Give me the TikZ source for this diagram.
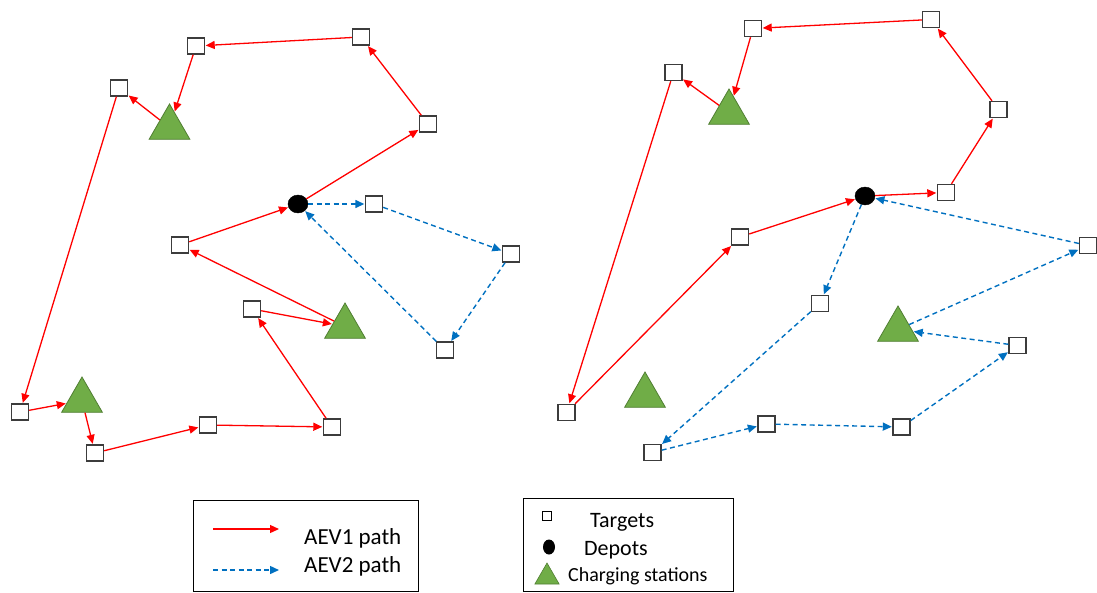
\documentclass[tikz,border=0pt]{standalone}
\usepackage{fontspec}
\setmainfont{Carlito}
\usetikzlibrary{arrows.meta,shapes.geometric}
\definecolor{pathred}{RGB}{255,0,0}
\definecolor{pathblue}{RGB}{0,112,192}
\definecolor{trifill}{RGB}{112,173,71}
\definecolor{tridraw}{RGB}{80,126,50}
\definecolor{sqdraw}{RGB}{60,60,60}
\tikzset{
  target/.style={draw=sqdraw, fill=white, line width=1.4pt, minimum width=17pt, minimum height=16pt, inner sep=0pt},
  depot/.style={ellipse, fill=black, draw=black, minimum width=20pt, minimum height=18pt, inner sep=0pt},
  station/.style={regular polygon, regular polygon sides=3, fill=trifill, draw=tridraw, line width=0.8pt, minimum size=47pt, inner sep=0pt},
  aevone/.style={draw=pathred, line width=1.3pt, -{Triangle[length=9pt,width=8pt]}, shorten >=0.5pt},
  aevtwo/.style={draw=pathblue, line width=1.4pt, dash pattern=on 5pt off 3.5pt, -{Triangle[length=9pt,width=8pt]}, shorten >=0.5pt},
  legbox/.style={draw=black, line width=1pt},
  legtext/.style={anchor=base west, inner sep=0pt, font=\fontsize{23}{26}\selectfont},
}
\begin{document}
\begin{tikzpicture}[x=1pt, y=-1pt]
\useasboundingbox (0,0) rectangle (1097,592);
% ---------- left diagram ----------
\node[target] (S1) at (196,46) {};
\node[target] (S2) at (361,37) {};
\node[target] (S3) at (119,88) {};
\node[target] (S4) at (428,124) {};
\node[target] (S5) at (374,204) {};
\node[target] (S6) at (180,245) {};
\node[target] (S7) at (511,254) {};
\node[target] (S8) at (252,309) {};
\node[target] (S9) at (445,350) {};
\node[target] (S10) at (20,412) {};
\node[target] (S11) at (208,425) {};
\node[target] (S12) at (332,427) {};
\node[target] (S13) at (95,453) {};
\node[depot] (D1) at (298,204) {};
\node[station] (T1) at (169.5,127.5) {};
\node[station] (T2) at (345,326.5) {};
\node[station] (T3) at (82,400.5) {};
\draw[aevone] (D1) -- (S4);
\draw[aevone] (S4) -- (S2);
\draw[aevone] (S2) -- (S1);
\draw[aevone] (S1) -- (T1);
\draw[aevone] (T1) -- (S3);
\draw[aevone] (S3) -- (S10);
\draw[aevone] (S10) -- (T3);
\draw[aevone] (T3) -- (S13);
\draw[aevone] (S13) -- (S11);
\draw[aevone] (S11) -- (S12);
\draw[aevone] (S12) -- (S8);
\draw[aevone] (S8) -- (T2);
\draw[aevone] (T2) -- (S6);
\draw[aevone] (S6) -- (D1);
\draw[aevtwo] (D1) -- (S5);
\draw[aevtwo] (S5) -- (S7);
\draw[aevtwo] (S7) -- (S9);
\draw[aevtwo] (S9) -- (D1);
% ---------- right diagram ----------
\node[target] (R1) at (753,28.5) {};
\node[target] (R2) at (931,19.5) {};
\node[target] (R3) at (673.5,72.5) {};
\node[target] (R4) at (998.5,109.5) {};
\node[target] (R5) at (946,192.5) {};
\node[target] (R6) at (740,237) {};
\node[target] (R7) at (1088,245.5) {};
\node[target] (R8) at (820,303.5) {};
\node[target] (R9) at (1017.5,345.5) {};
\node[target] (R10) at (566.5,412.5) {};
\node[target] (R11) at (766.5,424) {};
\node[target] (R12) at (901.5,427) {};
\node[target] (R13) at (652.5,452.5) {};
\node[depot] (D2) at (865,196) {};
\node[station] (RT1) at (729,112.5) {};
\node[station] (RT2) at (898,329.5) {};
\node[station] (RT3) at (645,395.5) {};
\draw[aevone] (D2) -- (R5);
\draw[aevone] (R5) -- (R4);
\draw[aevone] (R4) -- (R2);
\draw[aevone] (R2) -- (R1);
\draw[aevone] (R1) -- (RT1);
\draw[aevone] (RT1) -- (R3);
\draw[aevone] (R3) -- (R10);
\draw[aevone] (R10) -- (R6);
\draw[aevone] (R6) -- (D2);
\draw[aevtwo] (D2) -- (R8);
\draw[aevtwo] (R8) -- (R13);
\draw[aevtwo] (R13) -- (R11);
\draw[aevtwo] (R11) -- (R12);
\draw[aevtwo] (R12) -- (R9);
\draw[aevtwo] (R9) -- (RT2);
\draw[aevtwo] (RT2) -- (R7);
\draw[aevtwo] (R7) -- (D2);
% ---------- legend 1 ----------
\node[legbox, minimum width=225pt, minimum height=91pt, inner sep=0pt] (L1) at (305.5,545.5) {};
\coordinate (l1a) at (213,529);
\coordinate (l1b) at (279,529);
\coordinate (l2a) at (213,570);
\coordinate (l2b) at (279,570);
\draw[aevone, shorten >=0pt] (l1a) -- (l1b);
\draw[aevtwo, shorten >=0pt] (l2a) -- (l2b);
\node[legtext] (t1) at (304,544) {AEV1 path};
\node[legtext] (t2) at (304,572) {AEV2 path};
% ---------- legend 2 ----------
\node[legbox, minimum width=210pt, minimum height=93pt, inner sep=0pt] (L2) at (628,544.5) {};
\node[draw=black, fill=white, line width=1pt, minimum size=9pt, inner sep=0pt] (mk1) at (547,516) {};
\node[ellipse, fill=black, minimum width=12pt, minimum height=15pt, inner sep=0pt] (mk2) at (549,547) {};
\node[regular polygon, regular polygon sides=3, fill=trifill, draw=tridraw, line width=0.6pt, minimum size=28pt, inner sep=0pt] (mk3) at (547,577) {};
\node[legtext, font=\fontsize{22}{25}\selectfont] (t3) at (590,527) {Targets};
\node[legtext, font=\fontsize{22}{25}\selectfont] (t4) at (584,555) {Depots};
\node[legtext, font=\fontsize{20}{23}\selectfont] (t5) at (568,581) {Charging stations};
\end{tikzpicture}
\end{document}
